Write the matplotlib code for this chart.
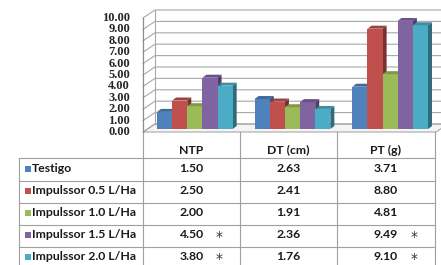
import matplotlib
matplotlib.use('Agg')
import matplotlib.pyplot as plt
import numpy as np
from matplotlib.patches import Polygon, Rectangle
from matplotlib.transforms import ScaledTranslation, IdentityTransform
import matplotlib.colors as mcolors

categories = ['NTP', 'DT (cm)', 'PT (g)']
series = ['Testigo', 'Impulssor 0.5 L/Ha', 'Impulssor 1.0 L/Ha',
          'Impulssor 1.5 L/Ha', 'Impulssor 2.0 L/Ha']
testigo = [1.50, 2.63, 3.71]
imp_05 = [2.50, 2.41, 8.80]
imp_10 = [2.00, 1.91, 4.81]
imp_15 = [4.50, 2.36, 9.49]
imp_20 = [3.80, 1.76, 9.10]
marks = [['', '', ''], ['', '', ''], ['', '', ''], ['*', '', '*'], ['*', '', '*']]
yticks = np.arange(0, 11, 1)
colors = ['#4F81BD', '#C0504D', '#9BBB59', '#8064A2', '#4BACC6']
values = [testigo, imp_05, imp_10, imp_15, imp_20]

W, H = 441, 265
fig = plt.figure(figsize=(W / 100, H / 100), dpi=100)
fig.patch.set_facecolor('white')

# pixel overlay (y down) for walls and table
px = fig.add_axes([0, 0, 1, 1], zorder=0)
px.set_xlim(0, W)
px.set_ylim(H, 0)
px.axis('off')

x_left, x_right, y_zero, y_top = 143, 436, 132, 18
ax = fig.add_axes([x_left / W, (H - y_zero) / H, (x_right - x_left) / W,
                   (y_zero - y_top) / H], zorder=2)
ax.set_xlim(-0.5, 2.5)
ax.set_ylim(0, 10)
ax.axis('off')


def to_px(x, v):
    d = ax.transData.transform((x, v))
    return d[0], H - d[1]


grid_c = '#A8A8A8'
DX, DY = 12, 8

# floor
fx0, fy0 = to_px(-0.5, 0)
fx1, _ = to_px(2.5, 0)
px.add_patch(Polygon([(fx0, fy0), (fx1, fy0), (fx1 + DX, fy0 - DY), (fx0 + DX, fy0 - DY)],
                     closed=True, facecolor='#F4F4F4', edgecolor=grid_c, lw=0.8))

# back wall gridlines + left wall diagonals
for v in yticks:
    x0, y0 = to_px(-0.5, v)
    px.plot([x0, x0 + DX, W + 5], [y0, y0 - DY, y0 - DY], color=grid_c, lw=0.8)
    px.text(x0 - 13, y0, '%.2f' % v, ha='right', va='center', fontsize=9,
            fontweight='bold', family='Liberation Serif', color='#262626')
_, ytop = to_px(-0.5, 10)
px.plot([fx0, fx0], [fy0, ytop], color='#8C8C8C', lw=0.9)
px.plot([fx0 + DX, fx0 + DX], [fy0 - DY, ytop - DY], color=grid_c, lw=0.8)

# 3D bars
bw = 0.155
bar_off = ax.transData + ScaledTranslation(3 / 100, 3 / 100, fig.dpi_scale_trans)
bdx, bdy = 4, 3
xs = np.arange(len(categories))
for j, vals in enumerate(values):
    base = mcolors.to_rgb(colors[j])
    side = tuple(c * 0.62 for c in base)
    top = tuple(c * 0.82 for c in base)
    pos = xs + (j - 2) * bw
    z = 2 + j * 3
    ax.bar(pos, vals, width=bw, color=colors[j], transform=bar_off, zorder=z + 1)
    for p, v in zip(pos, vals):
        (l, b), (r, t) = bar_off.transform([(p - bw / 2, 0), (p + bw / 2, v)])
        ax.add_patch(Polygon([(r, b), (r, t), (r + bdx, t + bdy), (r + bdx, b + bdy)],
                             closed=True, facecolor=side, edgecolor='none',
                             transform=IdentityTransform(), zorder=z))
        ax.add_patch(Polygon([(l, t), (r, t), (r + bdx, t + bdy), (l + bdx, t + bdy)],
                             closed=True, facecolor=top, edgecolor='none',
                             transform=IdentityTransform(), zorder=z + 2))

# data table
col_x = [143, 240, 337, 435]
row_y = [132, 158, 181, 203, 225, 247, 269]
tab_left = 19
tab_c = '#A0A0A0'
for y in row_y[1:-1]:
    px.plot([tab_left, col_x[-1]], [y, y], color=tab_c, lw=0.8)
for x in col_x:
    px.plot([x, x], [row_y[0], H], color=tab_c, lw=0.8)
px.plot([tab_left, tab_left], [row_y[1], H], color=tab_c, lw=0.8)

tfont = dict(family='Lato', fontsize=8.8, color='#1A1A1A')
for k, cat in enumerate(categories):
    cx = (col_x[k] + col_x[k + 1]) / 2
    px.text(cx, 150, cat, ha='center', va='center', fontweight='bold', **tfont)
for j, name in enumerate(series):
    cy = (row_y[j + 1] + row_y[j + 2]) / 2 - 1
    px.add_patch(Rectangle((25, cy - 3), 6, 6, facecolor=colors[j], edgecolor='none'))
    px.text(32, cy, name, ha='left', va='center', fontweight='bold', **tfont)
    for k in range(len(categories)):
        cx = (col_x[k] + col_x[k + 1]) / 2
        px.text(cx, cy, '%.2f' % values[j][k], ha='center', va='center',
                fontweight='bold', **tfont)
        if marks[j][k]:
            px.text(cx + 28, cy + 2, marks[j][k], ha='center', va='center',
                    fontsize=10, color='#333333')

fig.savefig('out.png', dpi=100)
